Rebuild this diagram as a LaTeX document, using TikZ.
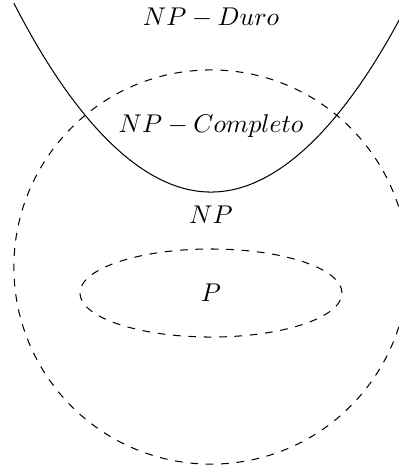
\documentclass[tikz,border=0pt]{standalone}
\usepackage{amssymb,amsmath}
\usepackage{tikz}

\begin{document}
\begin{tikzpicture}[set/.style={dashed}]
		\clip (-2.89,-2.712) rectangle (2.575,3.658);
		\draw[set] (0,0) circle (2.70);
		\draw (-2.70,3.614) parabola bend (0,1.027) (2.70,3.614);
		\draw[set] (0,-0.356) ellipse (1.795 and 0.603);
		\node (duro) at (0,3.42) {$NP-Duro$};
		\node (completo) at (0,1.935) {$NP-Completo$};
		\node (np) at (0,0.723) {$NP$};
		\node (p) at (0,-0.356) {$P$};
	\end{tikzpicture}
\end{document}
